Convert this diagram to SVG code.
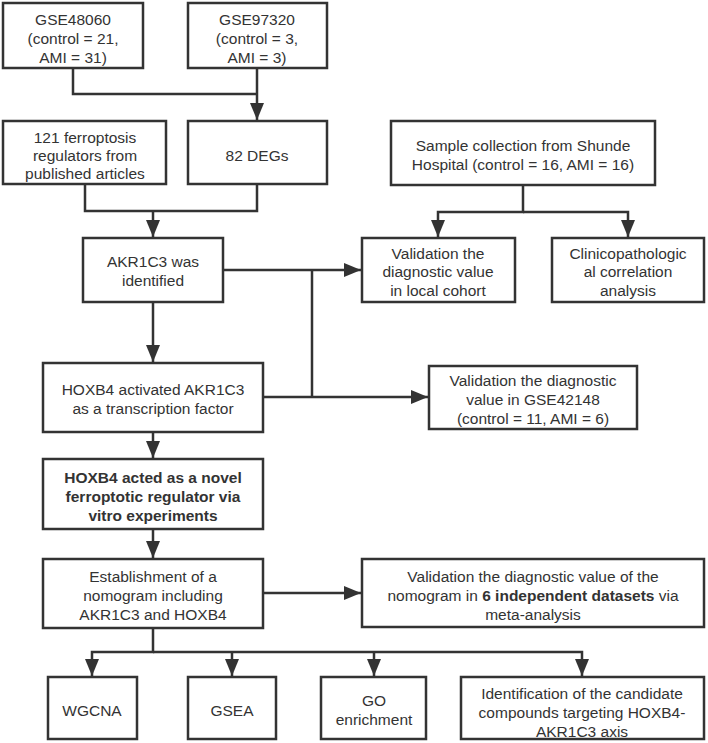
<svg xmlns="http://www.w3.org/2000/svg" width="708" height="743" viewBox="0 0 708 743">
<defs>
<style>
.box{fill:#fff;stroke:#333;stroke-width:2.5}
.ln{fill:none;stroke:#333;stroke-width:2.5}
text{font-family:"Liberation Sans",Arial,sans-serif;font-size:15.5px;fill:#333;text-anchor:middle;dominant-baseline:central}
.b{font-weight:bold}
</style>
<marker id="ah" markerUnits="userSpaceOnUse" markerWidth="18" markerHeight="14" refX="17" refY="7" orient="auto">
<path d="M0,0 L17,7 L0,14 Z" fill="#333"/>
</marker>
</defs>
<rect width="708" height="743" fill="#fff"/>
<g id="connectors">
<path class="ln" d="M73,68 V94 H257"/>
<path class="ln" d="M257,68 V120" marker-end="url(#ah)"/>
<path class="ln" d="M85,184 V211 H257 V184"/>
<path class="ln" d="M153,211 V237" marker-end="url(#ah)"/>
<path class="ln" d="M523,185 V212 H438 V237" marker-end="url(#ah)"/>
<path class="ln" d="M523,212 H628 V237" marker-end="url(#ah)"/>
<path class="ln" d="M223,270 H361" marker-end="url(#ah)"/>
<path class="ln" d="M312,270 V397"/>
<path class="ln" d="M153,302 V362" marker-end="url(#ah)"/>
<path class="ln" d="M263,397 H428" marker-end="url(#ah)"/>
<path class="ln" d="M153,432 V458" marker-end="url(#ah)"/>
<path class="ln" d="M153,529 V558" marker-end="url(#ah)"/>
<path class="ln" d="M263,593 H361" marker-end="url(#ah)"/>
<path class="ln" d="M153,628 V652 H92 V676" marker-end="url(#ah)"/>
<path class="ln" d="M153,652 H582 V676" marker-end="url(#ah)"/>
<path class="ln" d="M232,652 V676" marker-end="url(#ah)"/>
<path class="ln" d="M374,652 V676" marker-end="url(#ah)"/>
</g>
<g id="n1"><rect class="box" x="3" y="3" width="140" height="65"/>
<text x="73" y="19">GSE48060</text><text x="73" y="38">(control = 21,</text><text x="73" y="57">AMI = 31)</text></g>
<g id="n2"><rect class="box" x="188" y="3" width="139" height="65"/>
<text x="257" y="19">GSE97320</text><text x="257" y="38">(control = 3,</text><text x="257" y="57">AMI = 3)</text></g>
<g id="n3"><rect class="box" x="3" y="121" width="163" height="63"/>
<text x="85" y="137">121 ferroptosis</text><text x="85" y="155">regulators from</text><text x="85" y="173">published articles</text></g>
<g id="n4"><rect class="box" x="188" y="121" width="139" height="63"/>
<text x="257" y="155">82 DEGs</text></g>
<g id="n5"><rect class="box" x="391" y="121" width="264" height="64"/>
<text x="523" y="145">Sample collection from Shunde</text><text x="523" y="164">Hospital (control = 16, AMI = 16)</text></g>
<g id="n6"><rect class="box" x="83" y="238" width="140" height="64"/>
<text x="153" y="261">AKR1C3 was</text><text x="153" y="280">identified</text></g>
<g id="n7"><rect class="box" x="362" y="238" width="153" height="64"/>
<text x="438" y="253">Validation the</text><text x="438" y="271.5">diagnostic value</text><text x="438" y="290">in local cohort</text></g>
<g id="n8"><rect class="box" x="552" y="238" width="152" height="64"/>
<text x="628" y="253">Clinicopathologic</text><text x="628" y="271.5">al correlation</text><text x="628" y="290">analysis</text></g>
<g id="n9"><rect class="box" x="43" y="363" width="220" height="69"/>
<text x="153" y="389">HOXB4 activated AKR1C3</text><text x="153" y="408">as a transcription factor</text></g>
<g id="n10"><rect class="box" x="429" y="366" width="208" height="63"/>
<text x="533" y="380">Validation the diagnostic</text><text x="533" y="399">value in GSE42148</text><text x="533" y="418">(control = 11, AMI = 6)</text></g>
<g id="n11"><rect class="box" x="43" y="459" width="220" height="70"/>
<text class="b" x="153" y="477">HOXB4 acted as a novel</text><text class="b" x="153" y="496">ferroptotic regulator via</text><text class="b" x="153" y="515">vitro experiments</text></g>
<g id="n12"><rect class="box" x="43" y="559" width="220" height="69"/>
<text x="153" y="576">Establishment of a</text><text x="153" y="595">nomogram including</text><text x="153" y="614">AKR1C3 and HOXB4</text></g>
<g id="n13"><rect class="box" x="362" y="559" width="342" height="68"/>
<text x="533" y="576">Validation the diagnostic value of the</text><text x="533" y="595">nomogram in <tspan class="b">6 independent datasets</tspan> via</text><text x="533" y="614">meta-analysis</text></g>
<g id="n14"><rect class="box" x="48" y="677" width="89" height="62"/>
<text x="92" y="710">WGCNA</text></g>
<g id="n15"><rect class="box" x="188" y="677" width="88" height="62"/>
<text x="232" y="710">GSEA</text></g>
<g id="n16"><rect class="box" x="321" y="677" width="105" height="62"/>
<text x="374" y="700">GO</text><text x="374" y="719">enrichment</text></g>
<g id="n17"><rect class="box" x="461" y="677" width="243" height="62"/>
<text x="582" y="693">Identification of the candidate</text><text x="582" y="712">compounds targeting HOXB4-</text><text x="582" y="731">AKR1C3 axis</text></g>
</svg>
